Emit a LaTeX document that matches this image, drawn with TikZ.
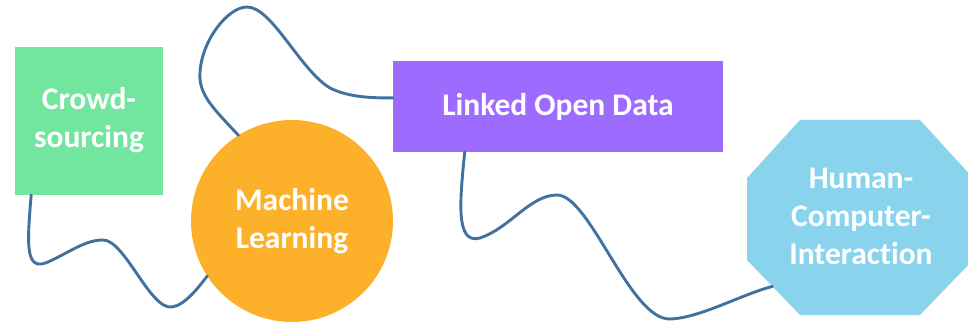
\documentclass[tikz,border=0pt]{standalone}
\usepackage{fontspec}
\setmainfont{Carlito}[Ligatures=NoCommon]
\usetikzlibrary{calc}
\definecolor{cgreen}{RGB}{114,229,159}
\definecolor{corange}{RGB}{253,177,42}
\definecolor{cpurple}{RGB}{158,107,255}
\definecolor{cblue}{RGB}{137,212,236}
\definecolor{cline}{RGB}{65,114,159}
\tikzset{
  lbl/.style={text=white, font=\fontsize{31.5}{38}\selectfont\bfseries, align=center, inner sep=0pt, outer sep=0pt},
  boxshape/.style={lbl, rectangle},
  link/.style={draw=cline, line width=2.9pt, line cap=round}
}
\begin{document}
\begin{tikzpicture}[x=1pt,y=-1pt]
\useasboundingbox (0,0) rectangle (968,326);
\node[boxshape, fill=cgreen, minimum width=148pt, minimum height=148pt] (cs) at (89,121) {\raisebox{7pt}{\begin{tabular}{@{}c@{}}Crowd-\\sourcing\end{tabular}}};
\node[lbl, circle, fill=corange, minimum size=202pt] (ml) at (292,221) {Machine\\Learning};
\node[boxshape, fill=cpurple, minimum width=330pt, minimum height=91pt] (lod) at (558,106.5) {Linked Open Data};
\fill[cblue] (747,178) -- (800,120) -- (920,120) -- (973,178) -- (973,260) -- (920,315) -- (800,315) -- (747,260) -- cycle;
\node[lbl] (hci) at (861,216) {Human-\\Computer-\\Interaction};
\coordinate (hciport) at ($(747,260)!0.48!(800,315)$);
\draw[link] (cs.232) .. controls (27,245) and (25,272) .. (48,262)
  .. controls (70,252) and (85,240) .. (103,240)
  .. controls (125,240) and (150,310) .. (172,307)
  .. controls (185,305) and (198,288) .. (ml.213);
\draw[link] (ml.122) .. controls (215,110) and (198,95) .. (200,72)
  .. controls (202,40) and (228,7) .. (247,7)
  .. controls (272,7) and (300,70) .. (330,88)
  .. controls (350,98) and (375,98) .. (lod.177);
\draw[link] (lod.206.6) .. controls (460,200) and (455,245) .. (480,238)
  .. controls (510,228) and (530,195) .. (557,195)
  .. controls (590,195) and (630,320) .. (670,319)
  .. controls (700,318) and (740,295) .. (hciport);
\end{tikzpicture}
\end{document}
